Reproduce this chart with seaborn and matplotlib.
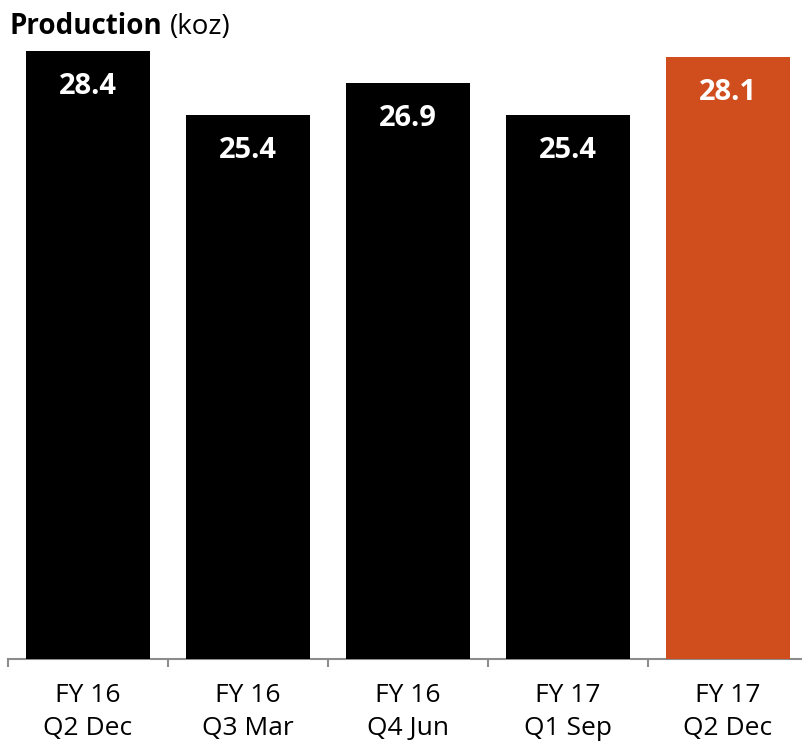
import matplotlib
matplotlib.use("Agg")
import matplotlib.pyplot as plt
import seaborn as sns
import pandas as pd
import numpy as np
from matplotlib.ticker import FixedLocator, NullFormatter, FixedFormatter

# Quarterly gold production (koz)
quarters = ["FY 16\nQ2 Dec", "FY 16\nQ3 Mar", "FY 16\nQ4 Jun", "FY 17\nQ1 Sep", "FY 17\nQ2 Dec"]
production = [28.4, 25.4, 26.9, 25.4, 28.1]
bar_colors = ["#000000", "#000000", "#000000", "#000000", "#D04E1D"]

sns.set_theme(style="white")
plt.rcParams["font.family"] = ["Open Sans", "DejaVu Sans"]

df = pd.DataFrame({"quarter": quarters, "koz": production})

fig = plt.figure(figsize=(8.02, 7.44), dpi=100)
ax = fig.add_axes([8 / 802, 1 - 658.5 / 744, 800 / 802, 642 / 744])

sns.barplot(data=df, x="quarter", y="koz", hue="quarter", palette=bar_colors,
            legend=False, width=0.77, saturation=1, linewidth=0, ax=ax)

ax.set_xlim(-0.5, 4.5)
ax.set_ylim(0, 30)
ax.set_xlabel("")
ax.set_ylabel("")
ax.set_yticks([])
for side in ["top", "right", "left"]:
    ax.spines[side].set_visible(False)
ax.spines["bottom"].set_color("#8c8c8c")
ax.spines["bottom"].set_linewidth(1.5)
ax.spines["bottom"].set_zorder(0.5)

# boundary ticks between categories, labels at the centres
n = len(quarters)
ax.xaxis.set_major_locator(FixedLocator(np.arange(n + 1) - 0.5))
ax.xaxis.set_major_formatter(NullFormatter())
ax.xaxis.set_minor_locator(FixedLocator(np.arange(n)))
ax.xaxis.set_minor_formatter(FixedFormatter(quarters))
ax.tick_params(axis="x", which="major", direction="out", length=6, width=1.5,
               color="#8c8c8c", bottom=True)
ax.tick_params(axis="x", which="minor", length=0, pad=18, labelsize=19,
               labelcolor="#000000")
for lbl in ax.xaxis.get_minorticklabels():
    lbl.set_linespacing(1.4)

# value labels inside the top of each bar
for i, v in enumerate(production):
    ax.annotate(f"{v:.1f}", xy=(i, v), xytext=(0, -25.5), textcoords="offset points",
                ha="center", va="center", color="white", fontsize=21,
                fontweight="bold")

fig.text(10 / 802, 1 - 27 / 744, "Production", fontsize=20, fontweight="bold",
         ha="left", va="center", color="#000000")
fig.canvas.draw()
bb = fig.texts[0].get_window_extent()
fig.text(bb.x1 / 802 + 7 / 802, 1 - 27 / 744, "(koz)", fontsize=20,
         ha="left", va="center", color="#000000")

fig.savefig("out.png", dpi=100)
